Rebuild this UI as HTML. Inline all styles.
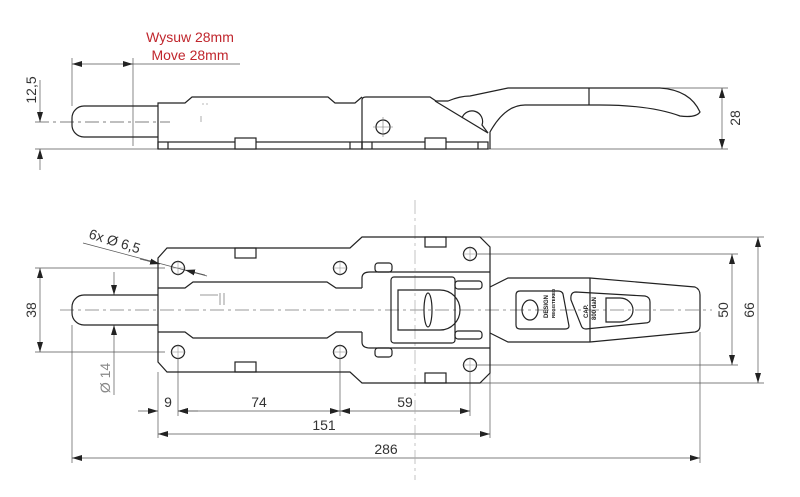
<!DOCTYPE html>
<html><head><meta charset="utf-8"><style>
html,body{margin:0;padding:0;background:#fff;}
svg{display:block}
text{font-family:"Liberation Sans",sans-serif;}
</style></head><body>
<svg width="800" height="497" viewBox="0 0 800 497" xmlns="http://www.w3.org/2000/svg">
<defs>
<marker id="a" viewBox="0 0 10 6" refX="10" refY="3" markerWidth="10" markerHeight="6" orient="auto-start-reverse" markerUnits="userSpaceOnUse"><path d="M0,0 L10,3 L0,6 z" fill="#222"/></marker>
</defs>
<g fill="none" stroke="#555" stroke-width="0.7">
<line x1="72" y1="58" x2="72" y2="106"/><line x1="133" y1="58" x2="133" y2="146"/>
<line x1="72" y1="64" x2="133" y2="64" marker-start="url(#a)" marker-end="url(#a)"/>
<line x1="133" y1="64" x2="240" y2="64"/>
<line x1="35" y1="122" x2="170" y2="122" stroke-dasharray="14,4,3,4"/>
<line x1="35" y1="149" x2="490" y2="149"/>
<line x1="40" y1="80" x2="40" y2="122" marker-end="url(#a)"/>
<line x1="40" y1="170" x2="40" y2="149" marker-end="url(#a)"/>
<line x1="590" y1="88" x2="728" y2="88"/><line x1="490" y1="149" x2="728" y2="149"/>
<line x1="722" y1="88" x2="722" y2="149" marker-start="url(#a)" marker-end="url(#a)"/>
</g>
<text x="190" y="42" fill="#c0262d" font-size="14" text-anchor="middle">Wysuw 28mm</text>
<text x="190" y="60" fill="#c0262d" font-size="14" text-anchor="middle">Move 28mm</text>
<text transform="translate(36,90) rotate(-90)" font-size="14" text-anchor="middle" fill="#333">12,5</text>
<text transform="translate(740,118) rotate(-90)" font-size="14" text-anchor="middle" fill="#333">28</text>

<g fill="none" stroke="#222" stroke-width="1.2">
<path d="M158,106 H84 A12,12 0 0 0 72,118 V125 A12,12 0 0 0 84,137 H158"/>
<path d="M158,149 V103 H185 L192,97 H328 L335,103 H355 L362,97"/>
<rect x="158" y="142" width="204" height="7"/>
<line x1="168" y1="142" x2="168" y2="149"/><line x1="350" y1="142" x2="350" y2="149"/>
<rect x="235" y="138" width="21" height="11" fill="#fff"/>
<path d="M362,149 V100 Q362,97 366,97 H430 L436,101 H448 Q460,96 470,96 L508,88 H660 Q690,90 700,112 Q696,118 680,116 Q650,105 600,105 H525 Q505,105 490,132 V149"/>
<line x1="589" y1="88" x2="589" y2="105"/>
<path d="M435,101 L488,133"/>
<path d="M462,118 A10,10 0 0 1 482,125 L488,133"/>
<rect x="362" y="142" width="126" height="7"/>
<line x1="372" y1="142" x2="372" y2="149"/><line x1="478" y1="142" x2="478" y2="149"/>
<rect x="425" y="138" width="21" height="11" fill="#fff"/>
<circle cx="383" cy="127" r="7"/>
</g>
<g stroke="#777" stroke-width="0.6" fill="none"><line x1="373" y1="127" x2="393" y2="127"/><line x1="383" y1="117" x2="383" y2="137"/><line x1="202" y1="104" x2="208" y2="104" stroke-dasharray="2,2"/><line x1="201" y1="116" x2="201" y2="122"/></g>

<g fill="none" stroke="#555" stroke-width="0.7">
<line x1="35" y1="268" x2="165" y2="268"/><line x1="35" y1="352" x2="165" y2="352"/>
<line x1="40" y1="268" x2="40" y2="352" marker-start="url(#a)" marker-end="url(#a)"/>
<line x1="114" y1="272" x2="114" y2="295" marker-end="url(#a)"/>
<line x1="114" y1="395" x2="114" y2="325" marker-end="url(#a)"/>
<line x1="83" y1="243" x2="207" y2="276"/>
<line x1="140" y1="259" x2="160" y2="264" marker-end="url(#a)"/>
<line x1="205" y1="275" x2="185" y2="270" marker-end="url(#a)"/>
<line x1="475" y1="237" x2="764" y2="237"/><line x1="475" y1="383" x2="764" y2="383"/>
<line x1="476" y1="254" x2="738" y2="254"/><line x1="476" y1="365" x2="738" y2="365"/>
<line x1="732" y1="254" x2="732" y2="365" marker-start="url(#a)" marker-end="url(#a)"/>
<line x1="758" y1="237" x2="758" y2="383" marker-start="url(#a)" marker-end="url(#a)"/>
<line x1="72" y1="325" x2="72" y2="463"/><line x1="158" y1="372" x2="158" y2="438"/>
<line x1="178" y1="358" x2="178" y2="416"/><line x1="340" y1="358" x2="340" y2="416"/>
<line x1="470" y1="371" x2="470" y2="416"/><line x1="490" y1="373" x2="490" y2="438"/>
<line x1="700" y1="332" x2="700" y2="463"/>
<line x1="138" y1="411" x2="158" y2="411" marker-end="url(#a)"/>
<line x1="198" y1="411" x2="178" y2="411" marker-end="url(#a)"/>
<line x1="178" y1="411" x2="340" y2="411" marker-start="url(#a)" marker-end="url(#a)"/>
<line x1="340" y1="411" x2="470" y2="411" marker-start="url(#a)" marker-end="url(#a)"/>
<line x1="158" y1="434" x2="490" y2="434" marker-start="url(#a)" marker-end="url(#a)"/>
<line x1="72" y1="458" x2="700" y2="458" marker-start="url(#a)" marker-end="url(#a)"/>
<line x1="60" y1="310" x2="712" y2="310" stroke-dasharray="14,4,3,4" stroke="#777"/>
<line x1="415" y1="200" x2="415" y2="480" stroke-dasharray="14,4,3,4" stroke="#aaa"/>
</g>
<g font-size="14" fill="#333">
<text transform="translate(36,310) rotate(-90)" text-anchor="middle">38</text>
<text transform="translate(110,378) rotate(-90)" text-anchor="middle" fill="#888">Ø 14</text>
<text transform="translate(88,238) rotate(17)">6x Ø 6,5</text>
<text transform="translate(728,310) rotate(-90)" text-anchor="middle">50</text>
<text transform="translate(754,310) rotate(-90)" text-anchor="middle">66</text>
<text x="168" y="407" text-anchor="middle">9</text>
<text x="259" y="407" text-anchor="middle">74</text>
<text x="405" y="407" text-anchor="middle">59</text>
<text x="324" y="430" text-anchor="middle">151</text>
<text x="386" y="454" text-anchor="middle">286</text>
</g>

<g fill="none" stroke="#222" stroke-width="1.2">
<path d="M158,295 H84 A12,12 0 0 0 72,307 V313 A12,12 0 0 0 84,325 H158"/>
<path d="M167,248 H350 L362,237 H480 L490,247 V373 L480,383 H362 L350,372 H167 L158,362 V258 Z"/>
<path d="M158,288 H185 L193,282 H327 L336,288 H362"/>
<path d="M158,332 H185 L193,338 H327 L336,332 H362"/>
<rect x="235" y="248" width="21" height="10"/><rect x="235" y="362" width="21" height="10"/>
<rect x="425" y="237" width="21" height="10"/><rect x="425" y="373" width="21" height="10"/>
<circle cx="178" cy="268" r="6.5"/><circle cx="178" cy="352" r="6.5"/>
<circle cx="340" cy="268" r="6.5"/><circle cx="340" cy="352" r="6.5"/>
<circle cx="470" cy="254" r="6.5"/><circle cx="470" cy="365" r="6.5"/>
<path d="M362,288 V278 Q362,272 370,272 H490 M362,332 V342 Q362,348 370,348 H490"/>
<rect x="375" y="263" width="17" height="9" rx="3"/><rect x="375" y="348" width="17" height="9" rx="3"/>
<rect x="391" y="277" width="64" height="66" rx="3"/>
<rect x="455" y="281" width="27" height="8" rx="3"/><rect x="455" y="331" width="27" height="8" rx="3"/>
<path d="M398,290 H440 A20,20 0 0 1 440,330 H398 Z"/>
<ellipse cx="428" cy="310" rx="4" ry="17"/>
<path d="M490,287 L508,278 H590 L695,287 Q700,289 700,295 V326 Q700,331 695,332 L590,342 H508 L490,333"/>
<line x1="590" y1="278" x2="590" y2="342"/>
<path d="M520,291 H558 Q562,291 563,294 L569,326 Q569,329 565,329 H520 Q516,329 516,325 V295 Q516,291 520,291 Z"/>
<ellipse cx="530" cy="310" rx="8" ry="10"/>
<path d="M576,292 L645,296 Q650,297 650,302 V320 Q650,323 645,323 L586,329 Q582,329 581,325 L571,300 Q570,292 576,292 Z"/>
<path d="M606,298 H620 A13,12 0 0 1 620,322 H606 Z"/>
</g>
<g font-size="6" fill="#222" font-weight="bold">
<text transform="translate(548,318) rotate(-90)">DESIGN</text>
<text transform="translate(555,318) rotate(-90)" font-size="4.5">REGISTERED</text>
<text transform="translate(588,318) rotate(-90)">CAP.</text>
<text transform="translate(596,320) rotate(-90)">800 daN</text>
</g>
<g stroke="#888" stroke-width="0.5" fill="none">
<path d="M170,268 h16 M178,260 v16 M170,352 h16 M178,344 v16 M332,268 h16 M340,260 v16 M332,352 h16 M340,344 v16 M462,254 h16 M470,246 v16 M462,365 h16 M470,357 v16"/>
<path d="M200,295 h18 M220,293 v12 M224,293 v12" stroke="#333"/>
</g>
</svg>
</body></html>
